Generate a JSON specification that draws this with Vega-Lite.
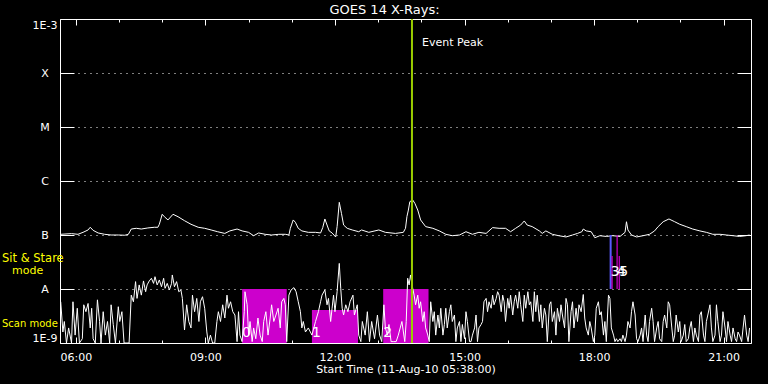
{
  "$schema": "https://vega.github.io/schema/vega-lite/v6.json",
  "width": 691,
  "height": 324,
  "autosize": {"type": "none"},
  "padding": {"left": 60, "top": 19, "right": 17, "bottom": 41},
  "background": "black",
  "config": {
    "view": {"stroke": "white", "strokeWidth": 1},
    "font": "DejaVu Sans",
    "axis": {"labelFont": "DejaVu Sans", "titleFont": "DejaVu Sans", "labelColor": "white", "titleColor": "white", "tickColor": "white", "domain": false, "grid": false, "titleFontWeight": "normal"},
    "text": {"font": "DejaVu Sans"}
  },
  "title": {"text": "GOES 14 X-Rays:", "color": "white", "fontSize": 13, "fontWeight": "normal", "font": "DejaVu Sans", "anchor": "middle", "frame": "group", "dx": -21, "baseline": "alphabetic", "offset": -9},
  "resolve": {"axis": {"x": "independent", "y": "independent"}},
  "datasets": {
    "spans": [
      {"start": "2010-08-11T09:51", "end": "2010-08-11T10:53", "top": 1e-8, "num": "0"},
      {"start": "2010-08-11T11:28", "end": "2010-08-11T12:32", "top": 4.1e-9, "num": "1"},
      {"start": "2010-08-11T13:07", "end": "2010-08-11T14:10", "top": 1e-8, "num": "2"}
    ],
    "event": [{"t": "2010-08-11T13:47", "v": 3.6e-4, "text": "Event Peak"}],
    "ss": [
      {"t": "2010-08-11T18:23", "v": 1e-7, "v2": 1e-8, "kind": "start"},
      {"t": "2010-08-11T18:25", "v": 4.1e-8, "v2": 1e-8, "kind": "end"},
      {"t": "2010-08-11T18:32", "v": 1e-7, "v2": 1e-8, "kind": "end"},
      {"t": "2010-08-11T18:35", "v": 4.1e-8, "v2": 1e-8, "kind": "end"}
    ],
    "ssLabels": [
      {"t": "2010-08-11T18:23", "num": "3"},
      {"t": "2010-08-11T18:32", "num": "4"},
      {"t": "2010-08-11T18:35", "num": "5"}
    ],
    "notes": [
      {"t": "2010-08-11T05:38", "v": 3.6e-8, "text": "Sit & Stare", "row": "a"},
      {"t": "2010-08-11T05:38", "v": 2.15e-8, "text": "mode", "row": "b"},
      {"t": "2010-08-11T05:38", "v": 2.25e-9, "text": "Scan mode", "row": "c"}
    ],
    "long": [
      {"t": "2010-08-11T05:39", "v": 1.03e-7}, {"t": "2010-08-11T05:54", "v": 1.06e-7}, {"t": "2010-08-11T06:03", "v": 1.03e-7},
      {"t": "2010-08-11T06:10", "v": 1.12e-7}, {"t": "2010-08-11T06:17", "v": 1.24e-7}, {"t": "2010-08-11T06:20", "v": 1.39e-7},
      {"t": "2010-08-11T06:24", "v": 1.22e-7}, {"t": "2010-08-11T06:31", "v": 1.09e-7}, {"t": "2010-08-11T06:40", "v": 1.03e-7},
      {"t": "2010-08-11T06:49", "v": 1.0e-7}, {"t": "2010-08-11T06:59", "v": 1.0e-7}, {"t": "2010-08-11T07:08", "v": 0.99e-7},
      {"t": "2010-08-11T07:13", "v": 1.03e-7}, {"t": "2010-08-11T07:17", "v": 1.29e-7}, {"t": "2010-08-11T07:24", "v": 1.33e-7},
      {"t": "2010-08-11T07:31", "v": 1.29e-7}, {"t": "2010-08-11T07:40", "v": 1.35e-7}, {"t": "2010-08-11T07:49", "v": 1.39e-7},
      {"t": "2010-08-11T07:54", "v": 1.39e-7}, {"t": "2010-08-11T07:56", "v": 1.58e-7}, {"t": "2010-08-11T08:00", "v": 2.42e-7},
      {"t": "2010-08-11T08:03", "v": 2.18e-7}, {"t": "2010-08-11T08:08", "v": 1.9e-7}, {"t": "2010-08-11T08:15", "v": 2.42e-7},
      {"t": "2010-08-11T08:22", "v": 2.18e-7}, {"t": "2010-08-11T08:31", "v": 1.84e-7}, {"t": "2010-08-11T08:40", "v": 1.58e-7},
      {"t": "2010-08-11T08:50", "v": 1.39e-7}, {"t": "2010-08-11T08:59", "v": 1.33e-7}, {"t": "2010-08-11T09:08", "v": 1.24e-7},
      {"t": "2010-08-11T09:17", "v": 1.15e-7}, {"t": "2010-08-11T09:27", "v": 1.07e-7}, {"t": "2010-08-11T09:34", "v": 1.19e-7},
      {"t": "2010-08-11T09:44", "v": 1.29e-7}, {"t": "2010-08-11T09:51", "v": 1.19e-7}, {"t": "2010-08-11T10:00", "v": 1.12e-7},
      {"t": "2010-08-11T10:07", "v": 0.97e-7}, {"t": "2010-08-11T10:14", "v": 1.09e-7}, {"t": "2010-08-11T10:23", "v": 1.03e-7},
      {"t": "2010-08-11T10:32", "v": 1.0e-7}, {"t": "2010-08-11T10:42", "v": 1.03e-7}, {"t": "2010-08-11T10:51", "v": 1.03e-7},
      {"t": "2010-08-11T10:56", "v": 1.0e-7}, {"t": "2010-08-11T10:58", "v": 1.33e-7}, {"t": "2010-08-11T11:02", "v": 1.9e-7},
      {"t": "2010-08-11T11:05", "v": 1.72e-7}, {"t": "2010-08-11T11:09", "v": 1.33e-7}, {"t": "2010-08-11T11:14", "v": 1.19e-7},
      {"t": "2010-08-11T11:23", "v": 1.12e-7}, {"t": "2010-08-11T11:33", "v": 1.12e-7}, {"t": "2010-08-11T11:40", "v": 1.09e-7},
      {"t": "2010-08-11T11:43", "v": 1.37e-7}, {"t": "2010-08-11T11:46", "v": 1.98e-7}, {"t": "2010-08-11T11:49", "v": 1.53e-7},
      {"t": "2010-08-11T11:52", "v": 1.19e-7}, {"t": "2010-08-11T11:56", "v": 1.09e-7}, {"t": "2010-08-11T12:01", "v": 0.92e-7},
      {"t": "2010-08-11T12:03", "v": 1.43e-7}, {"t": "2010-08-11T12:06", "v": 4.03e-7}, {"t": "2010-08-11T12:09", "v": 2.52e-7},
      {"t": "2010-08-11T12:12", "v": 1.53e-7}, {"t": "2010-08-11T12:17", "v": 1.33e-7}, {"t": "2010-08-11T12:24", "v": 1.24e-7},
      {"t": "2010-08-11T12:33", "v": 1.15e-7}, {"t": "2010-08-11T12:37", "v": 1.24e-7}, {"t": "2010-08-11T12:47", "v": 1.12e-7},
      {"t": "2010-08-11T13:01", "v": 1.24e-7}, {"t": "2010-08-11T13:10", "v": 1.12e-7}, {"t": "2010-08-11T13:24", "v": 1.07e-7},
      {"t": "2010-08-11T13:35", "v": 1.12e-7}, {"t": "2010-08-11T13:38", "v": 1.33e-7}, {"t": "2010-08-11T13:40", "v": 2.2e-7},
      {"t": "2010-08-11T13:42", "v": 2.9e-7}, {"t": "2010-08-11T13:44", "v": 4.14e-7}, {"t": "2010-08-11T13:48", "v": 4.45e-7},
      {"t": "2010-08-11T13:51", "v": 3.86e-7}, {"t": "2010-08-11T13:55", "v": 2.9e-7}, {"t": "2010-08-11T13:59", "v": 1.9e-7},
      {"t": "2010-08-11T14:06", "v": 1.43e-7}, {"t": "2010-08-11T14:16", "v": 1.33e-7}, {"t": "2010-08-11T14:25", "v": 1.19e-7},
      {"t": "2010-08-11T14:34", "v": 1.03e-7}, {"t": "2010-08-11T14:43", "v": 0.97e-7}, {"t": "2010-08-11T14:53", "v": 1.0e-7},
      {"t": "2010-08-11T15:02", "v": 1.15e-7}, {"t": "2010-08-11T15:11", "v": 1.03e-7}, {"t": "2010-08-11T15:20", "v": 1.12e-7},
      {"t": "2010-08-11T15:30", "v": 1.07e-7}, {"t": "2010-08-11T15:39", "v": 1.37e-7}, {"t": "2010-08-11T15:48", "v": 1.33e-7},
      {"t": "2010-08-11T15:57", "v": 1.33e-7}, {"t": "2010-08-11T16:04", "v": 1.15e-7}, {"t": "2010-08-11T16:11", "v": 1.33e-7},
      {"t": "2010-08-11T16:18", "v": 1.53e-7}, {"t": "2010-08-11T16:23", "v": 1.82e-7}, {"t": "2010-08-11T16:27", "v": 1.53e-7},
      {"t": "2010-08-11T16:34", "v": 1.43e-7}, {"t": "2010-08-11T16:44", "v": 1.19e-7}, {"t": "2010-08-11T16:48", "v": 1.07e-7},
      {"t": "2010-08-11T16:53", "v": 1.19e-7}, {"t": "2010-08-11T17:02", "v": 1.03e-7}, {"t": "2010-08-11T17:11", "v": 0.97e-7},
      {"t": "2010-08-11T17:21", "v": 0.92e-7}, {"t": "2010-08-11T17:30", "v": 1.0e-7}, {"t": "2010-08-11T17:37", "v": 1.07e-7},
      {"t": "2010-08-11T17:43", "v": 1.15e-7}, {"t": "2010-08-11T17:45", "v": 1.29e-7}, {"t": "2010-08-11T17:49", "v": 1.19e-7},
      {"t": "2010-08-11T17:56", "v": 1.15e-7}, {"t": "2010-08-11T18:01", "v": 0.89e-7}, {"t": "2010-08-11T18:08", "v": 0.97e-7},
      {"t": "2010-08-11T18:17", "v": 0.94e-7}, {"t": "2010-08-11T18:26", "v": 0.97e-7}, {"t": "2010-08-11T18:36", "v": 0.94e-7},
      {"t": "2010-08-11T18:43", "v": 1.12e-7}, {"t": "2010-08-11T18:45", "v": 1.76e-7}, {"t": "2010-08-11T18:47", "v": 1.24e-7},
      {"t": "2010-08-11T18:52", "v": 1.0e-7}, {"t": "2010-08-11T18:59", "v": 0.92e-7}, {"t": "2010-08-11T19:08", "v": 0.97e-7},
      {"t": "2010-08-11T19:17", "v": 1.03e-7}, {"t": "2010-08-11T19:24", "v": 1.19e-7}, {"t": "2010-08-11T19:29", "v": 1.43e-7},
      {"t": "2010-08-11T19:36", "v": 1.76e-7}, {"t": "2010-08-11T19:44", "v": 1.98e-7}, {"t": "2010-08-11T19:52", "v": 1.76e-7},
      {"t": "2010-08-11T19:59", "v": 1.58e-7}, {"t": "2010-08-11T20:08", "v": 1.43e-7}, {"t": "2010-08-11T20:17", "v": 1.29e-7},
      {"t": "2010-08-11T20:27", "v": 1.19e-7}, {"t": "2010-08-11T20:36", "v": 1.12e-7}, {"t": "2010-08-11T20:45", "v": 1.03e-7},
      {"t": "2010-08-11T20:55", "v": 1.03e-7}, {"t": "2010-08-11T21:04", "v": 1.0e-7}, {"t": "2010-08-11T21:13", "v": 0.97e-7},
      {"t": "2010-08-11T21:22", "v": 0.94e-7}, {"t": "2010-08-11T21:31", "v": 0.97e-7}, {"t": "2010-08-11T21:36", "v": 1.0e-7}
    ],
    "short": [
      {"t": "2010-08-11T05:39", "v": 5.8e-9}, {"t": "2010-08-11T05:42", "v": 1.6e-9}, {"t": "2010-08-11T05:44", "v": 2.5e-9},
      {"t": "2010-08-11T05:47", "v": 1.0e-9}, {"t": "2010-08-11T05:50", "v": 1.9e-9}, {"t": "2010-08-11T05:54", "v": 1.0e-9},
      {"t": "2010-08-11T05:56", "v": 5.8e-9}, {"t": "2010-08-11T05:59", "v": 1.4e-9}, {"t": "2010-08-11T06:02", "v": 4.4e-9},
      {"t": "2010-08-11T06:05", "v": 1.0e-9}, {"t": "2010-08-11T06:09", "v": 1.2e-9}, {"t": "2010-08-11T06:11", "v": 5.1e-9},
      {"t": "2010-08-11T06:14", "v": 3.8e-9}, {"t": "2010-08-11T06:17", "v": 5.4e-9}, {"t": "2010-08-11T06:20", "v": 1.9e-9},
      {"t": "2010-08-11T06:22", "v": 4.4e-9}, {"t": "2010-08-11T06:24", "v": 1.2e-9}, {"t": "2010-08-11T06:27", "v": 1.0e-9},
      {"t": "2010-08-11T06:30", "v": 6.3e-9}, {"t": "2010-08-11T06:33", "v": 2.5e-9}, {"t": "2010-08-11T06:35", "v": 1.0e-9},
      {"t": "2010-08-11T06:38", "v": 3.8e-9}, {"t": "2010-08-11T06:41", "v": 1.4e-9}, {"t": "2010-08-11T06:44", "v": 2.5e-9},
      {"t": "2010-08-11T06:47", "v": 1.0e-9}, {"t": "2010-08-11T06:49", "v": 5.1e-9}, {"t": "2010-08-11T06:52", "v": 2.2e-9},
      {"t": "2010-08-11T06:55", "v": 1.0e-9}, {"t": "2010-08-11T06:59", "v": 4.7e-9}, {"t": "2010-08-11T07:01", "v": 2.5e-9},
      {"t": "2010-08-11T07:04", "v": 3.8e-9}, {"t": "2010-08-11T07:07", "v": 1.0e-9}, {"t": "2010-08-11T07:11", "v": 1.0e-9},
      {"t": "2010-08-11T07:14", "v": 1.0e-9}, {"t": "2010-08-11T07:17", "v": 7.7e-9}, {"t": "2010-08-11T07:20", "v": 5.8e-9},
      {"t": "2010-08-11T07:23", "v": 1.37e-8}, {"t": "2010-08-11T07:25", "v": 6.7e-9}, {"t": "2010-08-11T07:28", "v": 1.19e-8},
      {"t": "2010-08-11T07:31", "v": 7.7e-9}, {"t": "2010-08-11T07:34", "v": 1.41e-8}, {"t": "2010-08-11T07:37", "v": 8.9e-9},
      {"t": "2010-08-11T07:39", "v": 1.19e-8}, {"t": "2010-08-11T07:42", "v": 1.41e-8}, {"t": "2010-08-11T07:45", "v": 1.58e-8},
      {"t": "2010-08-11T07:48", "v": 1.27e-8}, {"t": "2010-08-11T07:50", "v": 1.69e-8}, {"t": "2010-08-11T07:53", "v": 1.19e-8},
      {"t": "2010-08-11T07:56", "v": 1.47e-8}, {"t": "2010-08-11T07:59", "v": 1.1e-8}, {"t": "2010-08-11T08:02", "v": 1.58e-8},
      {"t": "2010-08-11T08:04", "v": 1.03e-8}, {"t": "2010-08-11T08:07", "v": 1.27e-8}, {"t": "2010-08-11T08:10", "v": 9.6e-9},
      {"t": "2010-08-11T08:13", "v": 1.27e-8}, {"t": "2010-08-11T08:14", "v": 1.82e-8}, {"t": "2010-08-11T08:17", "v": 1.1e-8},
      {"t": "2010-08-11T08:20", "v": 1.37e-8}, {"t": "2010-08-11T08:23", "v": 8.9e-9}, {"t": "2010-08-11T08:26", "v": 9.6e-9},
      {"t": "2010-08-11T08:28", "v": 6.7e-9}, {"t": "2010-08-11T08:31", "v": 1.74e-9}, {"t": "2010-08-11T08:34", "v": 5.1e-9},
      {"t": "2010-08-11T08:37", "v": 2.5e-9}, {"t": "2010-08-11T08:40", "v": 1.9e-9}, {"t": "2010-08-11T08:42", "v": 7.7e-9},
      {"t": "2010-08-11T08:45", "v": 3.8e-9}, {"t": "2010-08-11T08:48", "v": 6.7e-9}, {"t": "2010-08-11T08:51", "v": 2.5e-9},
      {"t": "2010-08-11T08:53", "v": 5.8e-9}, {"t": "2010-08-11T08:56", "v": 7.2e-9}, {"t": "2010-08-11T08:59", "v": 4.4e-9},
      {"t": "2010-08-11T09:02", "v": 1.6e-9}, {"t": "2010-08-11T09:04", "v": 1.0e-9}, {"t": "2010-08-11T09:07", "v": 1.4e-9},
      {"t": "2010-08-11T09:10", "v": 1.0e-9}, {"t": "2010-08-11T09:13", "v": 1.0e-9}, {"t": "2010-08-11T09:16", "v": 2.5e-9},
      {"t": "2010-08-11T09:18", "v": 3.8e-9}, {"t": "2010-08-11T09:21", "v": 2.5e-9}, {"t": "2010-08-11T09:24", "v": 5.1e-9},
      {"t": "2010-08-11T09:27", "v": 2.9e-9}, {"t": "2010-08-11T09:30", "v": 7.7e-9}, {"t": "2010-08-11T09:32", "v": 4.4e-9},
      {"t": "2010-08-11T09:35", "v": 5.8e-9}, {"t": "2010-08-11T09:38", "v": 3.8e-9},
      {"t": "2010-08-11T09:41", "v": 3.3e-9}, {"t": "2010-08-11T09:44", "v": 1.06e-9}, {"t": "2010-08-11T09:46", "v": 3.8e-9},
      {"t": "2010-08-11T09:48", "v": 1.4e-9}, {"t": "2010-08-11T09:51", "v": 1.06e-9}, {"t": "2010-08-11T09:54", "v": 3.8e-9},
      {"t": "2010-08-11T09:55", "v": 8.9e-9}, {"t": "2010-08-11T09:58", "v": 5.1e-9}, {"t": "2010-08-11T10:00", "v": 1.4e-9},
      {"t": "2010-08-11T10:02", "v": 2.5e-9}, {"t": "2010-08-11T10:05", "v": 1.06e-9}, {"t": "2010-08-11T10:07", "v": 1.9e-9},
      {"t": "2010-08-11T10:10", "v": 1.2e-9}, {"t": "2010-08-11T10:13", "v": 2.9e-9}, {"t": "2010-08-11T10:16", "v": 1.4e-9},
      {"t": "2010-08-11T10:19", "v": 1.06e-9}, {"t": "2010-08-11T10:21", "v": 2.5e-9}, {"t": "2010-08-11T10:24", "v": 3.8e-9},
      {"t": "2010-08-11T10:27", "v": 1.4e-9}, {"t": "2010-08-11T10:30", "v": 2.9e-9}, {"t": "2010-08-11T10:32", "v": 5.1e-9},
      {"t": "2010-08-11T10:35", "v": 2.5e-9}, {"t": "2010-08-11T10:38", "v": 3.3e-9}, {"t": "2010-08-11T10:41", "v": 4.4e-9},
      {"t": "2010-08-11T10:44", "v": 1.9e-9}, {"t": "2010-08-11T10:46", "v": 5.8e-9}, {"t": "2010-08-11T10:49", "v": 6.7e-9},
      {"t": "2010-08-11T10:51", "v": 5.1e-9}, {"t": "2010-08-11T10:53", "v": 1.06e-9}, {"t": "2010-08-11T10:56", "v": 7.7e-9},
      {"t": "2010-08-11T10:59", "v": 9.6e-9}, {"t": "2010-08-11T11:03", "v": 1.06e-8}, {"t": "2010-08-11T11:06", "v": 8.9e-9},
      {"t": "2010-08-11T11:09", "v": 5.8e-9}, {"t": "2010-08-11T11:12", "v": 3.8e-9}, {"t": "2010-08-11T11:14", "v": 1.9e-9},
      {"t": "2010-08-11T11:16", "v": 2.5e-9}, {"t": "2010-08-11T11:19", "v": 1.6e-9}, {"t": "2010-08-11T11:23", "v": 1.9e-9},
      {"t": "2010-08-11T11:28", "v": 1.4e-9}, {"t": "2010-08-11T11:33", "v": 2.5e-9}, {"t": "2010-08-11T11:37", "v": 3.8e-9},
      {"t": "2010-08-11T11:40", "v": 5.8e-9}, {"t": "2010-08-11T11:42", "v": 7.7e-9}, {"t": "2010-08-11T11:46", "v": 9.6e-9},
      {"t": "2010-08-11T11:49", "v": 5.1e-9}, {"t": "2010-08-11T11:51", "v": 6.7e-9}, {"t": "2010-08-11T11:54", "v": 2.5e-9},
      {"t": "2010-08-11T11:56", "v": 4.4e-9}, {"t": "2010-08-11T11:58", "v": 7.7e-9}, {"t": "2010-08-11T12:00", "v": 3.8e-9},
      {"t": "2010-08-11T12:03", "v": 8.9e-9}, {"t": "2010-08-11T12:06", "v": 2.98e-8}, {"t": "2010-08-11T12:08", "v": 1.03e-8},
      {"t": "2010-08-11T12:10", "v": 4.4e-9}, {"t": "2010-08-11T12:12", "v": 3.3e-9}, {"t": "2010-08-11T12:15", "v": 5.1e-9},
      {"t": "2010-08-11T12:18", "v": 3.8e-9}, {"t": "2010-08-11T12:21", "v": 5.8e-9}, {"t": "2010-08-11T12:25", "v": 7.7e-9},
      {"t": "2010-08-11T12:27", "v": 3.3e-9}, {"t": "2010-08-11T12:31", "v": 5.1e-9}, {"t": "2010-08-11T12:33", "v": 1.4e-9},
      {"t": "2010-08-11T12:36", "v": 1.06e-9}, {"t": "2010-08-11T12:38", "v": 2.5e-9}, {"t": "2010-08-11T12:42", "v": 1.4e-9},
      {"t": "2010-08-11T12:45", "v": 3.8e-9}, {"t": "2010-08-11T12:48", "v": 1.06e-9}, {"t": "2010-08-11T12:51", "v": 2.5e-9},
      {"t": "2010-08-11T12:55", "v": 1.2e-9}, {"t": "2010-08-11T12:59", "v": 3.3e-9}, {"t": "2010-08-11T13:02", "v": 1.4e-9},
      {"t": "2010-08-11T13:05", "v": 1.06e-9}, {"t": "2010-08-11T13:08", "v": 5.1e-9}, {"t": "2010-08-11T13:10", "v": 1.9e-9},
      {"t": "2010-08-11T13:13", "v": 1.4e-9}, {"t": "2010-08-11T13:15", "v": 2.2e-9}, {"t": "2010-08-11T13:18", "v": 1.06e-9},
      {"t": "2010-08-11T13:21", "v": 1.06e-9}, {"t": "2010-08-11T13:25", "v": 1.06e-9}, {"t": "2010-08-11T13:28", "v": 1.4e-9},
      {"t": "2010-08-11T13:33", "v": 2.5e-9}, {"t": "2010-08-11T13:37", "v": 1.06e-9}, {"t": "2010-08-11T13:39", "v": 2.5e-9},
      {"t": "2010-08-11T13:41", "v": 1.58e-8}, {"t": "2010-08-11T13:43", "v": 1.19e-8}, {"t": "2010-08-11T13:45", "v": 1.82e-8},
      {"t": "2010-08-11T13:48", "v": 1.03e-8}, {"t": "2010-08-11T13:50", "v": 7.7e-9}, {"t": "2010-08-11T13:52", "v": 5.1e-9},
      {"t": "2010-08-11T13:55", "v": 7.7e-9}, {"t": "2010-08-11T13:57", "v": 4.4e-9}, {"t": "2010-08-11T13:59", "v": 5.8e-9},
      {"t": "2010-08-11T14:02", "v": 2.5e-9}, {"t": "2010-08-11T14:04", "v": 3.8e-9}, {"t": "2010-08-11T14:06", "v": 1.9e-9},
      {"t": "2010-08-11T14:09", "v": 1.4e-9}, {"t": "2010-08-11T14:11", "v": 1.06e-9}, {"t": "2010-08-11T14:13", "v": 5.8e-9},
      {"t": "2010-08-11T14:16", "v": 2.5e-9}, {"t": "2010-08-11T14:18", "v": 3.8e-9}, {"t": "2010-08-11T14:20", "v": 1.4e-9},
      {"t": "2010-08-11T14:23", "v": 3.3e-9}, {"t": "2010-08-11T14:25", "v": 1.9e-9}, {"t": "2010-08-11T14:27", "v": 4.4e-9},
      {"t": "2010-08-11T14:30", "v": 1.4e-9}, {"t": "2010-08-11T14:32", "v": 2.2e-9}, {"t": "2010-08-11T14:34", "v": 4.4e-9},
      {"t": "2010-08-11T14:36", "v": 1.9e-9}, {"t": "2010-08-11T14:39", "v": 3.8e-9}, {"t": "2010-08-11T14:41", "v": 5.1e-9},
      {"t": "2010-08-11T14:43", "v": 2.5e-9}, {"t": "2010-08-11T14:46", "v": 3.3e-9}, {"t": "2010-08-11T14:48", "v": 1.06e-9},
      {"t": "2010-08-11T14:50", "v": 1.9e-9}, {"t": "2010-08-11T14:53", "v": 2.5e-9}, {"t": "2010-08-11T14:55", "v": 1.06e-9},
      {"t": "2010-08-11T14:57", "v": 2.2e-9}, {"t": "2010-08-11T15:00", "v": 1.2e-9}, {"t": "2010-08-11T15:02", "v": 3.8e-9},
      {"t": "2010-08-11T15:04", "v": 2.5e-9}, {"t": "2010-08-11T15:07", "v": 1.06e-9}, {"t": "2010-08-11T15:09", "v": 1.06e-9},
      {"t": "2010-08-11T15:11", "v": 1.4e-9}, {"t": "2010-08-11T15:14", "v": 1.9e-9}, {"t": "2010-08-11T15:16", "v": 3.3e-9},
      {"t": "2010-08-11T15:18", "v": 1.06e-9}, {"t": "2010-08-11T15:20", "v": 1.9e-9}, {"t": "2010-08-11T15:23", "v": 2.2e-9},
      {"t": "2010-08-11T15:25", "v": 2.5e-9}, {"t": "2010-08-11T15:27", "v": 5.8e-9}, {"t": "2010-08-11T15:30", "v": 6.7e-9},
      {"t": "2010-08-11T15:32", "v": 3.8e-9}, {"t": "2010-08-11T15:34", "v": 5.8e-9}, {"t": "2010-08-11T15:37", "v": 4.4e-9},
      {"t": "2010-08-11T15:39", "v": 7.7e-9}, {"t": "2010-08-11T15:41", "v": 5.1e-9}, {"t": "2010-08-11T15:44", "v": 6.7e-9},
      {"t": "2010-08-11T15:46", "v": 8.9e-9}, {"t": "2010-08-11T15:48", "v": 7.7e-9}, {"t": "2010-08-11T15:51", "v": 3.8e-9},
      {"t": "2010-08-11T15:53", "v": 7.7e-9}, {"t": "2010-08-11T15:55", "v": 5.8e-9}, {"t": "2010-08-11T15:57", "v": 2.5e-9},
      {"t": "2010-08-11T16:00", "v": 6.7e-9}, {"t": "2010-08-11T16:02", "v": 4.4e-9}, {"t": "2010-08-11T16:04", "v": 7.7e-9},
      {"t": "2010-08-11T16:07", "v": 3.3e-9}, {"t": "2010-08-11T16:09", "v": 5.8e-9}, {"t": "2010-08-11T16:11", "v": 7.7e-9},
      {"t": "2010-08-11T16:14", "v": 4.4e-9}, {"t": "2010-08-11T16:16", "v": 8.9e-9}, {"t": "2010-08-11T16:18", "v": 5.1e-9},
      {"t": "2010-08-11T16:21", "v": 2.5e-9}, {"t": "2010-08-11T16:23", "v": 7.7e-9}, {"t": "2010-08-11T16:25", "v": 4.4e-9},
      {"t": "2010-08-11T16:28", "v": 8.9e-9}, {"t": "2010-08-11T16:30", "v": 5.1e-9}, {"t": "2010-08-11T16:32", "v": 5.8e-9},
      {"t": "2010-08-11T16:35", "v": 2.5e-9}, {"t": "2010-08-11T16:37", "v": 8.9e-9}, {"t": "2010-08-11T16:39", "v": 3.8e-9},
      {"t": "2010-08-11T16:41", "v": 7.7e-9}, {"t": "2010-08-11T16:44", "v": 2.5e-9}, {"t": "2010-08-11T16:46", "v": 5.1e-9},
      {"t": "2010-08-11T16:48", "v": 1.9e-9}, {"t": "2010-08-11T16:51", "v": 4.4e-9}, {"t": "2010-08-11T16:53", "v": 3.3e-9},
      {"t": "2010-08-11T16:55", "v": 1.06e-9}, {"t": "2010-08-11T16:58", "v": 5.1e-9}, {"t": "2010-08-11T17:00", "v": 5.8e-9},
      {"t": "2010-08-11T17:02", "v": 2.5e-9}, {"t": "2010-08-11T17:05", "v": 3.8e-9}, {"t": "2010-08-11T17:07", "v": 1.4e-9},
      {"t": "2010-08-11T17:09", "v": 4.4e-9}, {"t": "2010-08-11T17:12", "v": 2.5e-9}, {"t": "2010-08-11T17:14", "v": 5.1e-9},
      {"t": "2010-08-11T17:16", "v": 3.3e-9}, {"t": "2010-08-11T17:19", "v": 1.9e-9}, {"t": "2010-08-11T17:21", "v": 6.7e-9},
      {"t": "2010-08-11T17:23", "v": 5.1e-9}, {"t": "2010-08-11T17:25", "v": 1.06e-9}, {"t": "2010-08-11T17:28", "v": 3.8e-9},
      {"t": "2010-08-11T17:30", "v": 5.8e-9}, {"t": "2010-08-11T17:32", "v": 1.9e-9}, {"t": "2010-08-11T17:35", "v": 4.4e-9},
      {"t": "2010-08-11T17:37", "v": 2.5e-9}, {"t": "2010-08-11T17:39", "v": 5.1e-9}, {"t": "2010-08-11T17:42", "v": 3.8e-9},
      {"t": "2010-08-11T17:45", "v": 7.9e-9}, {"t": "2010-08-11T17:47", "v": 2.9e-9}, {"t": "2010-08-11T17:49", "v": 1.9e-9},
      {"t": "2010-08-11T17:52", "v": 1.4e-9}, {"t": "2010-08-11T17:54", "v": 2.5e-9}, {"t": "2010-08-11T17:56", "v": 1.9e-9},
      {"t": "2010-08-11T17:59", "v": 1.06e-9}, {"t": "2010-08-11T18:01", "v": 1.4e-9}, {"t": "2010-08-11T18:03", "v": 4.4e-9},
      {"t": "2010-08-11T18:06", "v": 5.8e-9}, {"t": "2010-08-11T18:08", "v": 3.3e-9}, {"t": "2010-08-11T18:10", "v": 3.8e-9},
      {"t": "2010-08-11T18:13", "v": 1.4e-9}, {"t": "2010-08-11T18:15", "v": 2.5e-9}, {"t": "2010-08-11T18:17", "v": 1.06e-9},
      {"t": "2010-08-11T18:20", "v": 7.7e-9}, {"t": "2010-08-11T18:22", "v": 6.7e-9}, {"t": "2010-08-11T18:24", "v": 1.9e-9},
      {"t": "2010-08-11T18:27", "v": 1.4e-9}, {"t": "2010-08-11T18:29", "v": 1.06e-9}, {"t": "2010-08-11T18:31", "v": 1.2e-9},
      {"t": "2010-08-11T18:33", "v": 1.06e-9}, {"t": "2010-08-11T18:36", "v": 1.2e-9}, {"t": "2010-08-11T18:38", "v": 1.06e-9},
      {"t": "2010-08-11T18:40", "v": 1.4e-9}, {"t": "2010-08-11T18:43", "v": 1.06e-9}, {"t": "2010-08-11T18:45", "v": 1.4e-9},
      {"t": "2010-08-11T18:47", "v": 2.5e-9}, {"t": "2010-08-11T18:50", "v": 1.9e-9}, {"t": "2010-08-11T18:52", "v": 3.8e-9},
      {"t": "2010-08-11T18:54", "v": 5.8e-9}, {"t": "2010-08-11T18:57", "v": 3.3e-9}, {"t": "2010-08-11T18:59", "v": 1.2e-9},
      {"t": "2010-08-11T19:01", "v": 1.06e-9}, {"t": "2010-08-11T19:04", "v": 1.4e-9}, {"t": "2010-08-11T19:06", "v": 1.9e-9},
      {"t": "2010-08-11T19:08", "v": 1.06e-9}, {"t": "2010-08-11T19:11", "v": 3.3e-9}, {"t": "2010-08-11T19:13", "v": 1.4e-9},
      {"t": "2010-08-11T19:15", "v": 1.06e-9}, {"t": "2010-08-11T19:17", "v": 2.5e-9}, {"t": "2010-08-11T19:20", "v": 4.4e-9},
      {"t": "2010-08-11T19:22", "v": 2.5e-9}, {"t": "2010-08-11T19:24", "v": 1.06e-9}, {"t": "2010-08-11T19:27", "v": 1.9e-9},
      {"t": "2010-08-11T19:29", "v": 2.5e-9}, {"t": "2010-08-11T19:31", "v": 1.2e-9}, {"t": "2010-08-11T19:34", "v": 1.06e-9},
      {"t": "2010-08-11T19:36", "v": 2.5e-9}, {"t": "2010-08-11T19:38", "v": 3.3e-9}, {"t": "2010-08-11T19:41", "v": 1.9e-9},
      {"t": "2010-08-11T19:43", "v": 5.8e-9}, {"t": "2010-08-11T19:45", "v": 5.1e-9}, {"t": "2010-08-11T19:48", "v": 1.9e-9},
      {"t": "2010-08-11T19:50", "v": 1.06e-9}, {"t": "2010-08-11T19:52", "v": 1.4e-9}, {"t": "2010-08-11T19:54", "v": 3.3e-9},
      {"t": "2010-08-11T19:57", "v": 1.6e-9}, {"t": "2010-08-11T19:59", "v": 2.5e-9}, {"t": "2010-08-11T20:01", "v": 1.06e-9},
      {"t": "2010-08-11T20:04", "v": 1.4e-9}, {"t": "2010-08-11T20:06", "v": 2.2e-9}, {"t": "2010-08-11T20:08", "v": 1.06e-9},
      {"t": "2010-08-11T20:11", "v": 1.2e-9}, {"t": "2010-08-11T20:13", "v": 1.9e-9}, {"t": "2010-08-11T20:15", "v": 2.5e-9},
      {"t": "2010-08-11T20:18", "v": 1.06e-9}, {"t": "2010-08-11T20:20", "v": 1.9e-9}, {"t": "2010-08-11T20:22", "v": 1.4e-9},
      {"t": "2010-08-11T20:25", "v": 1.06e-9}, {"t": "2010-08-11T20:27", "v": 3.3e-9}, {"t": "2010-08-11T20:29", "v": 3.8e-9},
      {"t": "2010-08-11T20:32", "v": 1.4e-9}, {"t": "2010-08-11T20:34", "v": 1.06e-9}, {"t": "2010-08-11T20:36", "v": 2.5e-9},
      {"t": "2010-08-11T20:38", "v": 3.3e-9}, {"t": "2010-08-11T20:41", "v": 5.1e-9}, {"t": "2010-08-11T20:43", "v": 1.9e-9},
      {"t": "2010-08-11T20:45", "v": 1.06e-9}, {"t": "2010-08-11T20:48", "v": 1.4e-9}, {"t": "2010-08-11T20:50", "v": 5.1e-9},
      {"t": "2010-08-11T20:52", "v": 2.5e-9}, {"t": "2010-08-11T20:55", "v": 1.06e-9}, {"t": "2010-08-11T20:57", "v": 1.4e-9},
      {"t": "2010-08-11T20:59", "v": 3.8e-9}, {"t": "2010-08-11T21:02", "v": 1.9e-9}, {"t": "2010-08-11T21:04", "v": 1.06e-9},
      {"t": "2010-08-11T21:06", "v": 2.5e-9}, {"t": "2010-08-11T21:09", "v": 1.4e-9}, {"t": "2010-08-11T21:11", "v": 1.06e-9},
      {"t": "2010-08-11T21:13", "v": 1.9e-9}, {"t": "2010-08-11T21:16", "v": 1.2e-9}, {"t": "2010-08-11T21:18", "v": 1.06e-9},
      {"t": "2010-08-11T21:20", "v": 1.6e-9}, {"t": "2010-08-11T21:22", "v": 1.4e-9}, {"t": "2010-08-11T21:25", "v": 1.06e-9},
      {"t": "2010-08-11T21:27", "v": 1.9e-9}, {"t": "2010-08-11T21:29", "v": 3.3e-9}, {"t": "2010-08-11T21:32", "v": 1.4e-9},
      {"t": "2010-08-11T21:34", "v": 1.06e-9}, {"t": "2010-08-11T21:36", "v": 1.9e-9}
    ]
  },
  "layer": [
    {
      "data": {"name": "spans"},
      "mark": {"type": "rect", "color": "#cc00cc"},
      "encoding": {
        "x": {"field": "start", "type": "temporal",
          "scale": {"domain": [{"year": 2010, "month": 8, "date": 11, "hours": 5, "minutes": 38}, {"year": 2010, "month": 8, "date": 11, "hours": 21, "minutes": 38}], "nice": false},
          "axis": {"orient": "bottom", "values": [{"year": 2010, "month": 8, "date": 11, "hours": 6}, {"year": 2010, "month": 8, "date": 11, "hours": 9}, {"year": 2010, "month": 8, "date": 11, "hours": 12}, {"year": 2010, "month": 8, "date": 11, "hours": 15}, {"year": 2010, "month": 8, "date": 11, "hours": 18}, {"year": 2010, "month": 8, "date": 11, "hours": 21}],
            "format": "%H:%M", "labelFontSize": 11, "labelPadding": 14, "tickSize": -6, "tickWidth": 1, "labelOverlap": false, "labelFlush": false,
            "title": "Start Time (11-Aug-10 05:38:00)", "titleFontSize": 11, "titlePadding": 1}},
        "x2": {"field": "end"},
        "y": {"field": "top", "type": "quantitative",
          "scale": {"type": "log", "domain": [1e-9, 1e-3], "nice": false},
          "axis": {"orient": "left", "values": [1e-9, 1e-8, 1e-7, 1e-6, 1e-5, 1e-4, 1e-3],
            "labelExpr": "datum.value > 5e-4 ? '1E-3' : datum.value > 5e-5 ? 'X' : datum.value > 5e-6 ? 'M' : datum.value > 5e-7 ? 'C' : datum.value > 5e-8 ? 'B' : datum.value > 5e-9 ? 'A' : '1E-9'",
            "labelAlign": "center", "labelPadding": 29.5, "labelFlush": true, "labelFontSize": 11, "labelOverlap": false,
            "tickSize": -14, "tickWidth": 1, "grid": true, "gridColor": "white", "gridDash": [1, 5], "gridOpacity": 1, "gridWidth": 1, "title": null}},
        "y2": {"datum": 1e-9}
      }
    },
    {
      "data": {"name": "long"},
      "mark": {"type": "line", "color": "white", "strokeWidth": 1, "clip": true},
      "encoding": {
        "x": {"field": "t", "type": "temporal",
          "scale": {"domain": [{"year": 2010, "month": 8, "date": 11, "hours": 5, "minutes": 38}, {"year": 2010, "month": 8, "date": 11, "hours": 21, "minutes": 38}], "nice": false},
          "axis": {"orient": "bottom", "values": [{"year": 2010, "month": 8, "date": 11, "hours": 6}, {"year": 2010, "month": 8, "date": 11, "hours": 7}, {"year": 2010, "month": 8, "date": 11, "hours": 8}, {"year": 2010, "month": 8, "date": 11, "hours": 9}, {"year": 2010, "month": 8, "date": 11, "hours": 10}, {"year": 2010, "month": 8, "date": 11, "hours": 11}, {"year": 2010, "month": 8, "date": 11, "hours": 12}, {"year": 2010, "month": 8, "date": 11, "hours": 13}, {"year": 2010, "month": 8, "date": 11, "hours": 14}, {"year": 2010, "month": 8, "date": 11, "hours": 15}, {"year": 2010, "month": 8, "date": 11, "hours": 16}, {"year": 2010, "month": 8, "date": 11, "hours": 17}, {"year": 2010, "month": 8, "date": 11, "hours": 18}, {"year": 2010, "month": 8, "date": 11, "hours": 19}, {"year": 2010, "month": 8, "date": 11, "hours": 20}, {"year": 2010, "month": 8, "date": 11, "hours": 21}],
            "labels": false, "tickSize": -3, "tickWidth": 1, "title": null}},
        "y": {"field": "v", "type": "quantitative",
          "scale": {"type": "log", "domain": [1e-9, 1e-3], "nice": false},
          "axis": {"orient": "right", "values": [1e-8, 1e-7, 1e-6, 1e-5, 1e-4], "labels": false, "tickSize": -14, "tickWidth": 1, "title": null}}
      }
    },
    {
      "data": {"name": "short"},
      "mark": {"type": "line", "color": "white", "strokeWidth": 1, "clip": true},
      "encoding": {
        "x": {"field": "t", "type": "temporal",
          "scale": {"domain": [{"year": 2010, "month": 8, "date": 11, "hours": 5, "minutes": 38}, {"year": 2010, "month": 8, "date": 11, "hours": 21, "minutes": 38}], "nice": false},
          "axis": {"orient": "top", "values": [{"year": 2010, "month": 8, "date": 11, "hours": 6}, {"year": 2010, "month": 8, "date": 11, "hours": 9}, {"year": 2010, "month": 8, "date": 11, "hours": 12}, {"year": 2010, "month": 8, "date": 11, "hours": 15}, {"year": 2010, "month": 8, "date": 11, "hours": 18}, {"year": 2010, "month": 8, "date": 11, "hours": 21}],
            "labels": false, "tickSize": -6, "tickWidth": 1, "title": null}},
        "y": {"field": "v", "type": "quantitative",
          "scale": {"type": "log", "domain": [1e-9, 1e-3], "nice": false}, "axis": null}
      }
    },
    {
      "data": {"name": "event"},
      "mark": {"type": "rule", "color": "#99cc00", "strokeWidth": 2},
      "encoding": {
        "x": {"field": "t", "type": "temporal",
          "scale": {"domain": [{"year": 2010, "month": 8, "date": 11, "hours": 5, "minutes": 38}, {"year": 2010, "month": 8, "date": 11, "hours": 21, "minutes": 38}], "nice": false},
          "axis": {"orient": "top", "values": [{"year": 2010, "month": 8, "date": 11, "hours": 6}, {"year": 2010, "month": 8, "date": 11, "hours": 7}, {"year": 2010, "month": 8, "date": 11, "hours": 8}, {"year": 2010, "month": 8, "date": 11, "hours": 9}, {"year": 2010, "month": 8, "date": 11, "hours": 10}, {"year": 2010, "month": 8, "date": 11, "hours": 11}, {"year": 2010, "month": 8, "date": 11, "hours": 12}, {"year": 2010, "month": 8, "date": 11, "hours": 13}, {"year": 2010, "month": 8, "date": 11, "hours": 14}, {"year": 2010, "month": 8, "date": 11, "hours": 15}, {"year": 2010, "month": 8, "date": 11, "hours": 16}, {"year": 2010, "month": 8, "date": 11, "hours": 17}, {"year": 2010, "month": 8, "date": 11, "hours": 18}, {"year": 2010, "month": 8, "date": 11, "hours": 19}, {"year": 2010, "month": 8, "date": 11, "hours": 20}, {"year": 2010, "month": 8, "date": 11, "hours": 21}],
            "labels": false, "tickSize": -3, "tickWidth": 1, "title": null}}
      }
    },
    {
      "data": {"name": "event"},
      "mark": {"type": "text", "color": "white", "fontSize": 11, "align": "left", "baseline": "middle", "dx": 10},
      "encoding": {
        "x": {"field": "t", "type": "temporal",
          "scale": {"domain": [{"year": 2010, "month": 8, "date": 11, "hours": 5, "minutes": 38}, {"year": 2010, "month": 8, "date": 11, "hours": 21, "minutes": 38}], "nice": false}, "axis": null},
        "y": {"field": "v", "type": "quantitative", "scale": {"type": "log", "domain": [1e-9, 1e-3], "nice": false}, "axis": null},
        "text": {"field": "text"}
      }
    },
    {
      "data": {"name": "ss"},
      "mark": {"type": "rule"},
      "encoding": {
        "x": {"field": "t", "type": "temporal",
          "scale": {"domain": [{"year": 2010, "month": 8, "date": 11, "hours": 5, "minutes": 38}, {"year": 2010, "month": 8, "date": 11, "hours": 21, "minutes": 38}], "nice": false}, "axis": null},
        "y": {"field": "v", "type": "quantitative", "scale": {"type": "log", "domain": [1e-9, 1e-3], "nice": false}, "axis": null},
        "y2": {"field": "v2"},
        "color": {"field": "kind", "type": "nominal", "scale": {"domain": ["start", "end"], "range": ["#5a5aff", "#cc00cc"]}, "legend": null},
        "strokeWidth": {"field": "kind", "type": "nominal", "scale": {"domain": ["start", "end"], "range": [2, 1.2]}, "legend": null}
      }
    },
    {
      "data": {"name": "ssLabels"},
      "mark": {"type": "text", "color": "white", "fontSize": 14, "align": "left", "baseline": "middle"},
      "encoding": {
        "x": {"field": "t", "type": "temporal",
          "scale": {"domain": [{"year": 2010, "month": 8, "date": 11, "hours": 5, "minutes": 38}, {"year": 2010, "month": 8, "date": 11, "hours": 21, "minutes": 38}], "nice": false}, "axis": null},
        "y": {"datum": 2.07e-8, "type": "quantitative", "scale": {"type": "log", "domain": [1e-9, 1e-3], "nice": false}, "axis": null},
        "text": {"field": "num"}
      }
    },
    {
      "data": {"name": "spans"},
      "mark": {"type": "text", "color": "white", "fontSize": 14, "align": "left", "baseline": "middle"},
      "encoding": {
        "x": {"field": "start", "type": "temporal",
          "scale": {"domain": [{"year": 2010, "month": 8, "date": 11, "hours": 5, "minutes": 38}, {"year": 2010, "month": 8, "date": 11, "hours": 21, "minutes": 38}], "nice": false}, "axis": null},
        "y": {"datum": 1.56e-9, "type": "quantitative", "scale": {"type": "log", "domain": [1e-9, 1e-3], "nice": false}, "axis": null},
        "text": {"field": "num"}
      }
    },
    {
      "data": {"name": "notes"},
      "transform": [{"filter": "datum.row == 'a'"}],
      "mark": {"type": "text", "color": "#ffff00", "fontSize": 11.5, "align": "left", "baseline": "middle", "dx": -58, "clip": false},
      "encoding": {
        "x": {"field": "t", "type": "temporal",
          "scale": {"domain": [{"year": 2010, "month": 8, "date": 11, "hours": 5, "minutes": 38}, {"year": 2010, "month": 8, "date": 11, "hours": 21, "minutes": 38}], "nice": false}, "axis": null},
        "y": {"field": "v", "type": "quantitative", "scale": {"type": "log", "domain": [1e-9, 1e-3], "nice": false}, "axis": null},
        "text": {"field": "text"}
      }
    },
    {
      "data": {"name": "notes"},
      "transform": [{"filter": "datum.row == 'b'"}],
      "mark": {"type": "text", "color": "#ffff00", "fontSize": 11, "align": "left", "baseline": "middle", "dx": -48, "clip": false},
      "encoding": {
        "x": {"field": "t", "type": "temporal",
          "scale": {"domain": [{"year": 2010, "month": 8, "date": 11, "hours": 5, "minutes": 38}, {"year": 2010, "month": 8, "date": 11, "hours": 21, "minutes": 38}], "nice": false}, "axis": null},
        "y": {"field": "v", "type": "quantitative", "scale": {"type": "log", "domain": [1e-9, 1e-3], "nice": false}, "axis": null},
        "text": {"field": "text"}
      }
    },
    {
      "data": {"name": "notes"},
      "transform": [{"filter": "datum.row == 'c'"}],
      "mark": {"type": "text", "color": "#ffff00", "fontSize": 10, "align": "left", "baseline": "middle", "dx": -58, "clip": false},
      "encoding": {
        "x": {"field": "t", "type": "temporal",
          "scale": {"domain": [{"year": 2010, "month": 8, "date": 11, "hours": 5, "minutes": 38}, {"year": 2010, "month": 8, "date": 11, "hours": 21, "minutes": 38}], "nice": false}, "axis": null},
        "y": {"field": "v", "type": "quantitative", "scale": {"type": "log", "domain": [1e-9, 1e-3], "nice": false}, "axis": null},
        "text": {"field": "text"}
      }
    }
  ]
}
